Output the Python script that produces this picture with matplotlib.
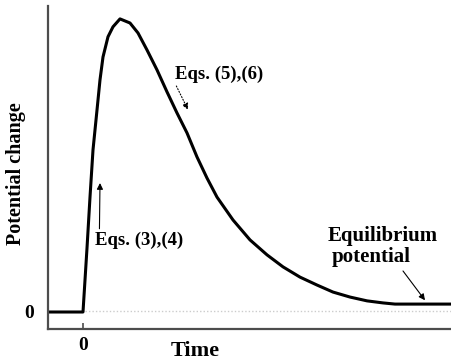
"""Sketch of a potential change vs time response with equation annotations."""

import matplotlib

matplotlib.use("Agg")
import matplotlib.pyplot as plt

# response curve (time, potential change)
time = [-0.35, 0.0, 0.02, 0.04, 0.07, 0.10, 0.14, 0.17, 0.20, 0.25, 0.30, 0.37,
        0.47, 0.55, 0.64, 0.74, 0.84, 0.94, 1.04, 1.14, 1.24, 1.34, 1.50, 1.67,
        1.84, 2.00, 2.17, 2.34, 2.50, 2.67, 2.84, 3.00, 3.12, 3.69]
potential = [0.0, 0.0, 0.109, 0.218, 0.392, 0.553, 0.689, 0.792, 0.870, 0.939,
             0.973, 1.0, 0.986, 0.952, 0.894, 0.826, 0.751, 0.679, 0.611, 0.529,
             0.457, 0.392, 0.314, 0.246, 0.195, 0.154, 0.119, 0.092, 0.068,
             0.051, 0.038, 0.031, 0.027, 0.027]
baseline_t = [0.02, 3.69]
baseline_v = [0.003, 0.003]

x_ticks = [0]
x_tick_labels = ["0"]
y_ticks = [0]
y_tick_labels = ["0"]

SERIF = ["Liberation Serif", "DejaVu Serif"]

fig = plt.figure(figsize=(4.52, 3.6), dpi=100)
ax = fig.add_axes([48 / 452, 31 / 360, 404 / 452, 323 / 360])

ax.plot(baseline_t, baseline_v, color="0.8", lw=1.0, ls=(0, (1, 1.5)), zorder=1)
ax.plot(time, potential, color="black", lw=2.2, solid_joinstyle="round",
        solid_capstyle="round", zorder=2)

ax.set_xlim(-0.35, 3.69)
ax.set_ylim(-0.058, 1.044)

for side in ("top", "right"):
    ax.spines[side].set_visible(False)
for side in ("left", "bottom"):
    ax.spines[side].set_color("0.3")
    ax.spines[side].set_linewidth(1.6)

ax.set_xticks(x_ticks)
ax.set_xticklabels(x_tick_labels, fontfamily=SERIF, fontweight="bold", fontsize=14)
ax.tick_params(axis="x", direction="in", length=4, width=1.2, color="0.3", pad=6)
ax.set_yticks(y_ticks)
ax.set_yticklabels(y_tick_labels, fontfamily=SERIF, fontweight="bold", fontsize=14)
ax.tick_params(axis="y", length=0, pad=10)

ax.set_xlabel("Time", fontfamily=SERIF, fontweight="bold", fontsize=16)
ax.xaxis.set_label_coords(0.365, -0.038)
ax.set_ylabel("Potential change", fontfamily=SERIF, fontweight="bold", fontsize=14.5)
ax.yaxis.set_label_coords(-0.054, 0.48)

# annotations
ax.annotate("Eqs. (3),(4)", xy=(0.17, 0.44), xytext=(0.12, 0.245),
            fontfamily=SERIF, fontweight="bold", fontsize=13.5, va="center",
            arrowprops=dict(arrowstyle="-|>", color="black", lw=0.8,
                            mutation_scale=9, shrinkA=0, shrinkB=0,
                            relpos=(0.05, 1.0)))
ax.annotate("Eqs. (5),(6)", xy=(1.05, 0.69), xytext=(0.92, 0.81),
            fontfamily=SERIF, fontweight="bold", fontsize=13.5, va="center",
            arrowprops=dict(arrowstyle="-|>", color="black", lw=0.8, ls=":",
                            mutation_scale=9, shrinkA=0, shrinkB=0,
                            relpos=(0.0, 0.0)))
ax.text(2.45, 0.26, "Equilibrium", fontfamily=SERIF, fontweight="bold",
        fontsize=15, va="center")
ax.text(2.49, 0.187, "potential", fontfamily=SERIF, fontweight="bold",
        fontsize=15, va="center")
ax.annotate("", xy=(3.42, 0.04), xytext=(3.2, 0.14),
            arrowprops=dict(arrowstyle="-|>", color="black", lw=0.8,
                            mutation_scale=9, shrinkA=0, shrinkB=0))

fig.savefig("out.png", dpi=100)
